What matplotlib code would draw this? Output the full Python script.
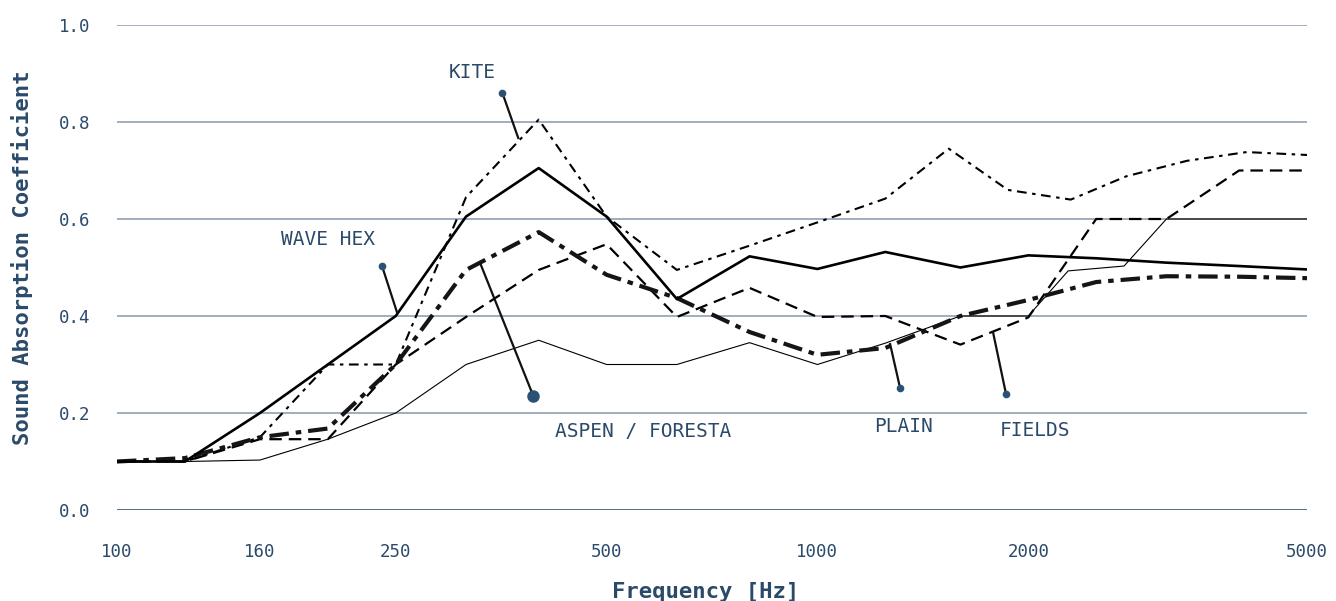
import numpy as np
import matplotlib
matplotlib.use("Agg")
import matplotlib.pyplot as plt
from matplotlib.ticker import NullLocator

plt.rcParams['font.family'] = ['DejaVu Sans Mono', 'DejaVu Sans']
plt.rcParams['lines.scale_dashes'] = False

# -----------------------------
# Daten
# -----------------------------
f_wave = [100, 125, 160, 200, 250, 315, 400, 500, 630, 800, 1000, 1250, 1600, 2000, 2500, 3150, 4000, 5000]
a_wave = [0.10, 0.10, 0.20, 0.30, 0.40, 0.605, 0.705, 0.605, 0.435, 0.523, 0.497, 0.532, 0.50, 0.525, 0.519, 0.51, 0.503, 0.496]

f_kite = [100, 125, 160, 200, 250, 315, 400, 500, 630, 800, 1000, 1250, 1540, 1870, 2300, 2760, 3370, 4100, 5000]
a_kite = [0.10, 0.10, 0.15, 0.30, 0.30, 0.645, 0.805, 0.605, 0.495, 0.545, 0.593, 0.642, 0.745, 0.66, 0.64, 0.688, 0.72, 0.738, 0.732]

f_aspen = [100, 125, 160, 200, 250, 315, 400, 500, 630, 800, 1000, 1250, 1600, 2000, 2500, 3150, 4000, 5000]
a_aspen = [0.10, 0.107, 0.15, 0.168, 0.30, 0.495, 0.573, 0.485, 0.437, 0.367, 0.32, 0.334, 0.40, 0.433, 0.47, 0.482, 0.481, 0.478]

f_fields = [100, 125, 160, 200, 250, 315, 400, 500, 630, 800, 1000, 1250, 1600, 2000, 2500, 3150, 4000, 5000]
a_fields = [0.10, 0.10, 0.146, 0.146, 0.30, 0.398, 0.495, 0.548, 0.398, 0.458, 0.398, 0.40, 0.341, 0.397, 0.60, 0.60, 0.70, 0.70]

f_plain = [100, 125, 160, 200, 250, 315, 400, 500, 630, 800, 1000, 1250, 1600, 2000, 2280, 2740, 3150, 5000]
a_plain = [0.10, 0.10, 0.103, 0.146, 0.20, 0.30, 0.35, 0.30, 0.30, 0.345, 0.30, 0.344, 0.40, 0.40, 0.493, 0.503, 0.60, 0.60]

x_ticks = [100, 160, 250, 500, 1000, 2000, 5000]
y_ticks = [0.0, 0.2, 0.4, 0.6, 0.8, 1.0]

# Beschriftungen: Name, Textposition, Punkt, Linienende (Frequenz, Koeffizient)
labels = ["KITE", "WAVE HEX", "ASPEN / FORESTA", "PLAIN", "FIELDS"]
label_text_pos = [(322, 0.903), (200, 0.557), (564, 0.161), (1325, 0.173), (2045, 0.163)]
label_dot_pos = [(355, 0.86), (239, 0.503), (393, 0.235), (1312, 0.252), (1859, 0.239)]
label_end_pos = [(374, 0.767), (251, 0.408), (330, 0.509), (1270, 0.342), (1781, 0.367)]
label_dot_size = [4.5, 4.5, 8, 4.5, 4.5]

text_col = '#2b4a6a'
grid_col = '#8797ab'

fig = plt.figure(figsize=(13.36, 6.01), dpi=100)
ax = fig.add_axes([117 / 1336, 1 - 510 / 601, (1307 - 117) / 1336, 485 / 601])

for v in y_ticks[1:]:
    ax.axhline(v, color=grid_col, lw=1.1, zorder=0)
ax.axhline(0.0, color='#3c5874', lw=1.2, zorder=0)

ax.plot(f_plain, a_plain, color='black', lw=0.8, zorder=2)
ax.plot(f_fields, a_fields, color='black', lw=1.6, linestyle=(0, (9, 5)), zorder=3)
ax.plot(f_kite, a_kite, color='black', lw=1.5, linestyle=(0, (7, 4, 2.5, 4)), zorder=3)
ax.plot(f_aspen, a_aspen, color='#151515', lw=3.0, linestyle=(0, (14, 5, 4, 5)), zorder=4)
ax.plot(f_wave, a_wave, color='black', lw=1.9, zorder=5)

for name, tp, dp, ep, ms in zip(labels, label_text_pos, label_dot_pos, label_end_pos, label_dot_size):
    ax.plot([dp[0], ep[0]], [dp[1], ep[1]], color='#111111', lw=1.6, zorder=6)
    ax.plot(dp[0], dp[1], 'o', color='#2b5275', markersize=ms, zorder=7)
    ax.text(tp[0], tp[1], name, color=text_col, fontsize=14, ha='center', va='center')

ax.set_xscale('log')
ax.set_xlim(100, 5000)
ax.set_ylim(0, 1.0)
ax.set_xticks(x_ticks)
ax.set_xticklabels([str(x) for x in x_ticks])
ax.xaxis.set_minor_locator(NullLocator())
ax.set_yticks(y_ticks)
ax.set_yticklabels([f"{v:.1f}" for v in y_ticks])
ax.tick_params(axis='both', length=0, colors=text_col, labelsize=12.5)
ax.tick_params(axis='x', pad=24)
ax.tick_params(axis='y', pad=19)
for s in ax.spines.values():
    s.set_visible(False)

fig.text(22 / 1336, 1 - 258 / 601, "Sound Absorption Coefficient", rotation=90,
         ha='center', va='center', color=text_col, fontsize=16, fontweight='bold')
fig.text(706 / 1336, 1 - 592 / 601, "Frequency [Hz]", ha='center', va='center',
         color=text_col, fontsize=16, fontweight='bold')

fig.savefig("out.png", dpi=100)
